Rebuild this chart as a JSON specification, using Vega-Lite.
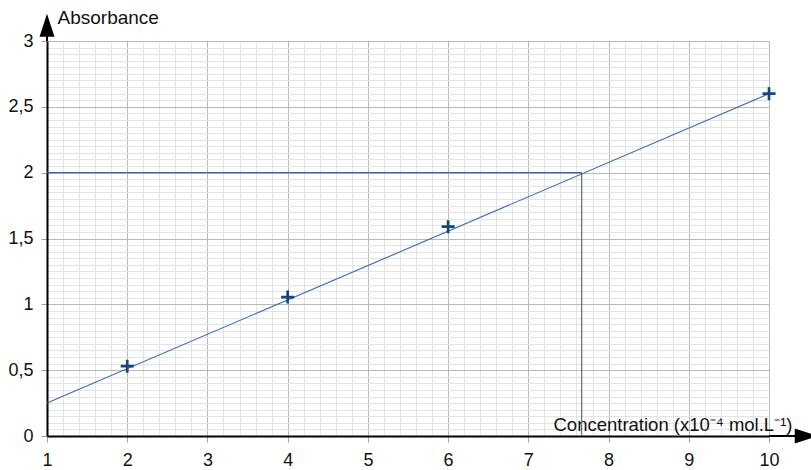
{
  "$schema": "https://vega.github.io/schema/vega-lite/v6.json",
  "width": 722,
  "height": 395,
  "padding": {"left": 47, "top": 41, "right": 42, "bottom": 34},
  "autosize": {"type": "none"},
  "background": "white",
  "config": {
    "view": {"stroke": null},
    "font": "Liberation Sans"
  },
  "datasets": {
    "points": [
      {"c": 2, "a": 0.53},
      {"c": 4, "a": 1.055},
      {"c": 6, "a": 1.59},
      {"c": 10, "a": 2.6}
    ],
    "trend": [
      {"c": 1, "a": 0.25},
      {"c": 10, "a": 2.6}
    ],
    "reading": [
      {"c0": 1, "c": 7.665, "a0": 0, "a": 2}
    ],
    "yaxisExt": [
      {"c": 1, "a": 3},
      {"c": 1, "a": 3.06}
    ],
    "xaxisExt": [
      {"c": 10, "a": 0},
      {"c": 10.35, "a": 0}
    ],
    "yArrow": [{"c": 1, "a": 3.12}],
    "xArrow": [{"c": 10.464, "a": 0}]
  },
  "resolve": {"axis": {"x": "independent", "y": "independent"}},
  "layer": [
    {
      "data": {"name": "trend"},
      "mark": {"type": "line", "color": "#3a68b0", "strokeWidth": 1.1},
      "encoding": {
        "x": {
          "field": "c", "type": "quantitative",
          "scale": {"domain": [1, 10], "nice": false, "zero": false},
          "axis": {
            "orient": "bottom", "title": null, "labels": false, "ticks": false, "domain": false,
            "grid": true, "gridColor": "#e3e3e3", "gridWidth": 1,
            "values": [1.2,1.4,1.6,1.8,2.2,2.4,2.6,2.8,3.2,3.4,3.6,3.8,4.2,4.4,4.6,4.8,5.2,5.4,5.6,5.8,6.2,6.4,6.6,6.8,7.2,7.4,7.6,7.8,8.2,8.4,8.6,8.8,9.2,9.4,9.6,9.8]
          }
        },
        "y": {
          "field": "a", "type": "quantitative",
          "scale": {"domain": [0, 3], "nice": false, "zero": false},
          "axis": {
            "orient": "left", "title": null, "labels": false, "ticks": false, "domain": false,
            "grid": true, "gridColor": "#e3e3e3", "gridWidth": 1,
            "values": [0.05,0.1,0.15,0.2,0.25,0.3,0.35,0.4,0.45,0.55,0.6,0.65,0.7,0.75,0.8,0.85,0.9,0.95,1.05,1.1,1.15,1.2,1.25,1.3,1.35,1.4,1.45,1.55,1.6,1.65,1.7,1.75,1.8,1.85,1.9,1.95,2.05,2.1,2.15,2.2,2.25,2.3,2.35,2.4,2.45,2.55,2.6,2.65,2.7,2.75,2.8,2.85,2.9,2.95]
          }
        }
      }
    },
    {
      "data": {"name": "points"},
      "mark": {"type": "point", "shape": "M-1,0H1M0,-1V1", "filled": false, "size": 170, "strokeWidth": 2.7, "color": "#15477d", "opacity": 1},
      "encoding": {
        "x": {
          "field": "c", "type": "quantitative",
          "axis": {
            "orient": "bottom", "title": "Concentration (x10⁻⁴ mol.L⁻¹)",
            "titleAngle": 0, "titleAlign": "left", "titleBaseline": "middle",
            "titleX": 506, "titleY": -12, "titleFontSize": 18.5, "titleFontWeight": "normal", "titleColor": "#111111",
            "titleFont": "Liberation Sans",
            "values": [1,2,3,4,5,6,7,8,9,10],
            "labelFlush": false, "labelOverlap": false,
            "grid": true, "gridColor": "#b8b8b8", "gridWidth": 1,
            "domain": true, "domainColor": "#000000", "domainWidth": 2,
            "ticks": true, "tickColor": "#a0a0a0", "tickSize": 6, "tickWidth": 1,
            "labelFontSize": 18, "labelColor": "#111111", "labelPadding": 9, "labelFont": "Liberation Sans"
          }
        },
        "y": {
          "field": "a", "type": "quantitative",
          "axis": {
            "orient": "left", "title": "Absorbance",
            "titleAngle": 0, "titleAlign": "left", "titleBaseline": "middle",
            "titleX": 10, "titleY": -23.5, "titleFontSize": 19, "titleFontWeight": "normal", "titleColor": "#111111",
            "titleFont": "Liberation Sans",
            "values": [0,0.5,1,1.5,2,2.5,3],
            "labelFlush": false, "labelOverlap": false,
            "labelExpr": "replace(format(datum.value, '~g'), '.', ',')",
            "grid": true, "gridColor": "#b8b8b8", "gridWidth": 1,
            "domain": true, "domainColor": "#000000", "domainWidth": 2,
            "ticks": true, "tickColor": "#a0a0a0", "tickSize": 6, "tickWidth": 1,
            "labelFontSize": 18, "labelColor": "#111111", "labelPadding": 8, "labelFont": "Liberation Sans"
          }
        }
      }
    },
    {
      "data": {"name": "reading"},
      "mark": {"type": "rule", "color": "#3a68b0", "strokeWidth": 1.1},
      "encoding": {
        "x": {"field": "c0", "type": "quantitative", "axis": null},
        "x2": {"field": "c"},
        "y": {"field": "a", "type": "quantitative", "axis": null}
      }
    },
    {
      "data": {"name": "reading"},
      "mark": {"type": "rule", "color": "#4a5f80", "strokeWidth": 1.1},
      "encoding": {
        "x": {"field": "c", "type": "quantitative", "axis": null},
        "y": {"field": "a0", "type": "quantitative", "axis": null},
        "y2": {"field": "a"}
      }
    },
    {
      "data": {"name": "yaxisExt"},
      "mark": {"type": "line", "color": "#000000", "strokeWidth": 2, "clip": false},
      "encoding": {
        "x": {"field": "c", "type": "quantitative", "axis": null},
        "y": {"field": "a", "type": "quantitative", "axis": null}
      }
    },
    {
      "data": {"name": "xaxisExt"},
      "mark": {"type": "line", "color": "#000000", "strokeWidth": 2, "clip": false},
      "encoding": {
        "x": {"field": "c", "type": "quantitative", "axis": null},
        "y": {"field": "a", "type": "quantitative", "axis": null}
      }
    },
    {
      "data": {"name": "yArrow"},
      "mark": {"type": "point", "shape": "M0,-1L0.65,1L-0.65,1Z", "filled": true, "size": 529, "color": "#000000", "opacity": 1, "strokeWidth": 0, "clip": false},
      "encoding": {
        "x": {"field": "c", "type": "quantitative", "axis": null},
        "y": {"field": "a", "type": "quantitative", "axis": null}
      }
    },
    {
      "data": {"name": "xArrow"},
      "mark": {"type": "point", "shape": "M1,0L-1,0.65L-1,-0.65Z", "filled": true, "size": 529, "color": "#000000", "opacity": 1, "strokeWidth": 0, "clip": false},
      "encoding": {
        "x": {"field": "c", "type": "quantitative", "axis": null},
        "y": {"field": "a", "type": "quantitative", "axis": null}
      }
    }
  ]
}
